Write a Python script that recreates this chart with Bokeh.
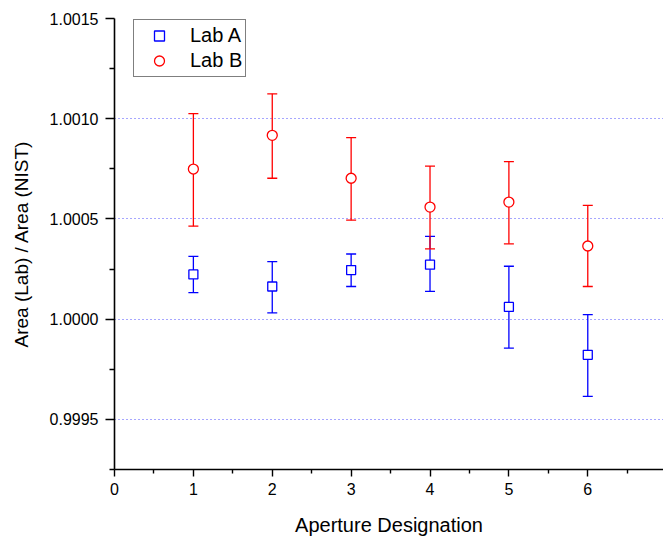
from bokeh.plotting import figure
from bokeh.models import (ColumnDataSource, Whisker, TeeHead, FixedTicker,
                          PrintfTickFormatter, Legend, LegendItem)
from bokeh.embed import file_html
from bokeh.resources import INLINE

# ---- data ----
apertures = [1, 2, 3, 4, 5, 6]
lab_a = [1.000223, 1.000163, 1.000245, 1.000272, 1.000061, 0.999822]
lab_a_upper = [1.000313, 1.000287, 1.000325, 1.000413, 1.000264, 1.000023]
lab_a_lower = [1.000132, 1.000031, 1.000163, 1.000139, 0.999856, 0.999615]
lab_b = [1.000749, 1.000917, 1.000703, 1.000559, 1.000584, 1.000365]
lab_b_upper = [1.001025, 1.001124, 1.000906, 1.000764, 1.000786, 1.000568]
lab_b_lower = [1.000464, 1.000703, 1.000494, 1.000351, 1.000376, 1.000163]

y_major = [0.9995, 1.0000, 1.0005, 1.0010, 1.0015]
y_minor = [0.99925, 0.99975, 1.00025, 1.00075, 1.00125]
y_grid = [0.9995, 1.0000, 1.0005, 1.0010]
x_major = [0, 1, 2, 3, 4, 5, 6, 7]
x_minor = [0.5, 1.5, 2.5, 3.5, 4.5, 5.5, 6.5]

FONT = "Liberation Sans"
BLUE = "#0000ff"
RED = "#ff0000"

src_a = ColumnDataSource(dict(x=apertures, y=lab_a, up=lab_a_upper, lo=lab_a_lower))
src_b = ColumnDataSource(dict(x=apertures, y=lab_b, up=lab_b_upper, lo=lab_b_lower))

p = figure(width=663, height=538, output_backend="svg", toolbar_location=None,
           x_range=(0, 6.96), y_range=(0.99925, 1.0015),
           min_border_left=114, min_border_right=0, min_border_top=18,
           min_border_bottom=68)
p.outline_line_color = None
p.background_fill_color = "white"
p.border_fill_color = "white"

# axes
for ax in (p.xaxis[0], p.yaxis[0]):
    ax.axis_line_color = "black"
    ax.axis_line_width = 1.6
    ax.major_tick_line_color = "black"
    ax.minor_tick_line_color = "black"
    ax.major_tick_line_width = 1.4
    ax.minor_tick_line_width = 1.4
    ax.major_tick_in = 0
    ax.minor_tick_in = 0
    ax.major_label_text_font = FONT
    ax.major_label_text_font_size = "16px"
    ax.major_label_text_color = "black"
    ax.axis_label_text_font = FONT
    ax.axis_label_text_font_style = "normal"
    ax.axis_label_text_color = "black"

p.yaxis.ticker = FixedTicker(ticks=y_major, minor_ticks=y_minor)
p.yaxis.formatter = PrintfTickFormatter(format="%.4f")
p.yaxis.major_tick_out = 9
p.yaxis.minor_tick_out = 5
p.yaxis.major_label_standoff = 7
p.yaxis.axis_label = "Area (Lab) / Area (NIST)"
p.yaxis.axis_label_text_font_size = "19px"
p.yaxis.axis_label_standoff = 15

p.xaxis.ticker = FixedTicker(ticks=x_major, minor_ticks=x_minor)
p.xaxis.major_tick_out = 7
p.xaxis.minor_tick_out = 4
p.xaxis.major_label_standoff = 6
p.xaxis.axis_label = "Aperture Designation"
p.xaxis.axis_label_text_font_size = "20px"
p.xaxis.axis_label_standoff = 16

# grid
p.xgrid.visible = False
p.ygrid.ticker = FixedTicker(ticks=y_grid)
p.ygrid.grid_line_color = BLUE
p.ygrid.grid_line_alpha = 0.7
p.ygrid.grid_line_dash = "1 3"
p.ygrid.grid_line_width = 1

# error bars
for src, col in ((src_a, BLUE), (src_b, RED)):
    w = Whisker(base="x", upper="up", lower="lo", source=src,
                line_color=col, line_width=1.3,
                upper_head=TeeHead(size=10, line_color=col, line_width=1.3),
                lower_head=TeeHead(size=10, line_color=col, line_width=1.3))
    p.add_layout(w)

ra = p.scatter("x", "y", source=src_a, marker="square", size=9,
               line_color=BLUE, fill_color="white", line_width=1.3)
rb = p.scatter("x", "y", source=src_b, marker="circle", size=10,
               line_color=RED, fill_color="white", line_width=1.3)

legend = Legend(items=[LegendItem(label="Lab A", renderers=[ra]),
                       LegendItem(label="Lab B", renderers=[rb])],
                location=(19, 392))
legend.label_text_font = FONT
legend.label_text_font_size = "20px"
legend.label_text_color = "black"
legend.border_line_color = "black"
legend.border_line_width = 1
legend.background_fill_color = "white"
legend.background_fill_alpha = 1
legend.padding = 3
legend.spacing = 0
legend.margin = 0
legend.glyph_width = 44
legend.glyph_height = 25
legend.label_height = 25
legend.label_standoff = 9
p.add_layout(legend, "center")

open("out.html", "w").write(file_html(p, INLINE))
